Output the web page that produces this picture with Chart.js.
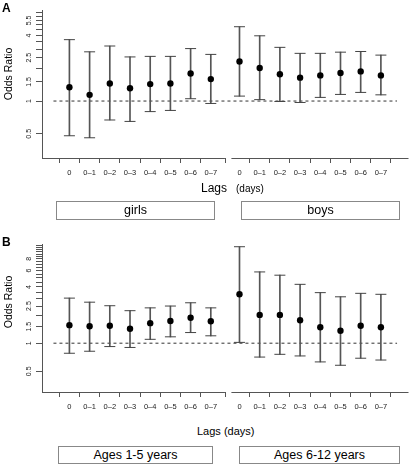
<!DOCTYPE html>
<html>
<head>
<meta charset="utf-8">
<script src="https://cdn.jsdelivr.net/npm/chart.js@4"></script>
<style>
  body { margin: 0; background: #fff; font-family: "Liberation Sans", Arial, sans-serif; }
  #wrap { position: relative; width: 415px; height: 465px; overflow: hidden; }
  .panel { position: absolute; left: 0; width: 415px; height: 185px; }
  .lbl { position: absolute; white-space: nowrap; color: #000; line-height: 1; }
  .letter { font-weight: bold; font-size: 12px; }
  .ytitle { font-size: 10.5px; transform: translate(-50%, -50%) rotate(-90deg); }
  .strip { position: absolute; border: 1px solid #888; box-sizing: border-box; text-align: center;
           font-size: 12.5px; line-height: 17px; color: #000; }
</style>
</head>
<body>
<div id="wrap">
  <div class="panel" style="top:0"><canvas id="chartA" width="415" height="185"></canvas></div>
  <div class="panel" style="top:234px"><canvas id="chartB" width="415" height="185"></canvas></div>

  <div class="lbl letter" style="left:2px;top:1.5px">A</div>
  <div class="lbl letter" style="left:2px;top:236px">B</div>
  <div class="lbl ytitle" style="left:7.5px;top:74px">Odds Ratio</div>
  <div class="lbl ytitle" style="left:7.5px;top:302px">Odds Ratio</div>

  <div class="lbl" style="left:201px;top:182px;font-size:12px">Lags</div>
  <div class="lbl" style="left:236px;top:184px;font-size:10px">(days)</div>
  <div class="lbl" style="left:197px;top:426px;font-size:11px">Lags (days)</div>

  <div class="strip" style="left:56px;top:201px;width:159px;height:19px">girls</div>
  <div class="strip" style="left:241px;top:201px;width:159px;height:19px">boys</div>
  <div class="strip" style="left:58px;top:446px;width:155px;height:18px">Ages 1-5 years</div>
  <div class="strip" style="left:239px;top:446px;width:161px;height:18px">Ages 6-12 years</div>
</div>

<script>
// lag windows (days)
const lags = ["0", "0\u20131", "0\u20132", "0\u20133", "0\u20134", "0\u20135", "0\u20136", "0\u20137"];

// panel A: by sex
const girlsOR = [1.34, 1.14, 1.45, 1.31, 1.43, 1.45, 1.79, 1.59];
const girlsLo = [0.48, 0.46, 0.67, 0.65, 0.80, 0.82, 1.05, 0.95];
const girlsHi = [3.66, 2.83, 3.20, 2.54, 2.57, 2.57, 3.03, 2.68];
const boysOR  = [2.31, 2.01, 1.76, 1.64, 1.72, 1.81, 1.87, 1.72];
const boysLo  = [1.11, 1.03, 0.99, 0.97, 1.08, 1.15, 1.20, 1.14];
const boysHi  = [4.81, 3.97, 3.11, 2.74, 2.74, 2.81, 2.85, 2.64];

// panel B: by age
const age15OR  = [1.56, 1.52, 1.54, 1.43, 1.64, 1.73, 1.87, 1.72];
const age15Lo  = [0.78, 0.82, 0.92, 0.90, 1.10, 1.17, 1.30, 1.20];
const age15Hi  = [3.04, 2.75, 2.52, 2.23, 2.39, 2.50, 2.71, 2.39];
const age612OR = [3.34, 2.01, 2.01, 1.76, 1.48, 1.36, 1.54, 1.48];
const age612Lo = [1.02, 0.71, 0.76, 0.73, 0.63, 0.58, 0.69, 0.66];
const age612Hi = [10.8, 5.80, 5.35, 4.27, 3.48, 3.14, 3.42, 3.34];

// y axis ticks
const yTicksA  = [0.5, 1, 1.5, 2, 2.5, 3, 3.5, 4, 4.5, 5, 5.5, 6, 6.5];
const yLabelsA = [0.5, 1, 1.5, 2.5, 4, 5.5];
const yTicksB  = [0.5, 1, 1.5, 2, 2.5, 3, 3.5, 4, 4.5, 5, 5.5, 6, 6.5, 7, 7.5, 8, 8.5, 9, 9.5, 10, 10.5, 11];
const yLabelsB = [0.5, 1, 1.5, 2.5, 4, 6, 8];

// facet placement on the shared x scale
const facetShift = 8.42;
const xMin = -0.79, xMax = 16.22;
const axisGap = [7.7, 8.02];

const pos = (i, f) => i + f * facetShift;

// draws the bottom axis line in two pieces, one per facet
const facetAxis = {
  id: "facetAxis",
  afterDatasetsDraw(chart) {
    const {ctx, chartArea, scales} = chart;
    const y = Math.round(chartArea.bottom) + 0.5;
    ctx.save();
    ctx.strokeStyle = "#555";
    ctx.lineWidth = 1;
    ctx.beginPath();
    ctx.moveTo(chartArea.left, y);
    ctx.lineTo(scales.x.getPixelForValue(axisGap[0]), y);
    ctx.moveTo(scales.x.getPixelForValue(axisGap[1]), y);
    ctx.lineTo(chartArea.right, y);
    ctx.stroke();
    ctx.restore();
  }
};

function oddsChart({canvas_id, facets, yMin, yMax, yTicks, yLabels}) {

  const points = [], bars = [], caps = [];
  facets.forEach((fc, f) => {
    for (let i = 0; i < lags.length; i++) {
      points.push({x: pos(i, f), y: fc.or[i]});
      bars.push({x: pos(i, f), y: [fc.lo[i], fc.hi[i]]});
      caps.push({x: pos(i, f), y: fc.lo[i]});
      caps.push({x: pos(i, f), y: fc.hi[i]});
    }
  });

  const tickPos = [];
  const tickText = [];
  facets.forEach((fc, f) => {
    lags.forEach((l, i) => { tickPos.push(pos(i, f)); tickText.push(l); });
  });

  const config = {
    type: "scatter",
    data: {
      datasets: [
        {
          type: "scatter",
          data: points,
          pointRadius: 3.2,
          pointBackgroundColor: "#000",
          pointBorderColor: "#000",
          pointBorderWidth: 0
        },
        {
          type: "scatter",
          data: caps,
          pointStyle: "line",
          pointRadius: 5.5,
          pointBorderColor: "#444",
          pointBorderWidth: 1
        },
        {
          type: "bar",
          data: bars,
          barThickness: 1,
          grouped: false,
          backgroundColor: "#555",
          borderWidth: 0
        },
        {
          type: "line",
          data: [{x: xMin, y: 1}, {x: xMax, y: 1}],
          borderColor: "#333",
          borderWidth: 1,
          borderDash: [3, 3],
          pointRadius: 0,
          fill: false
        }
      ]
    },
    options: {
      animation: false,
      responsive: false,
      layout: { padding: { top: 10, right: 2, left: 0, bottom: 0 } },
      plugins: { legend: { display: false }, tooltip: { enabled: false } },
      scales: {
        x: {
          type: "linear",
          min: xMin,
          max: xMax,
          border: { display: false },
          grid: { drawOnChartArea: false, tickLength: 5, color: "#555" },
          ticks: {
            autoSkip: false,
            maxRotation: 0,
            padding: 5,
            color: "#222",
            font: { family: "Liberation Sans", size: 7.5 },
            callback: (v, i) => tickText[i]
          },
          afterBuildTicks: s => { s.ticks = tickPos.map(v => ({value: v})); },
          afterFit: s => { s.height = 27; }
        },
        y: {
          type: "logarithmic",
          min: yMin,
          max: yMax,
          border: { display: true, color: "#555", width: 1 },
          grid: { drawOnChartArea: false, tickLength: 6, color: "#555" },
          ticks: {
            autoSkip: false,
            minRotation: 90,
            maxRotation: 90,
            crossAlign: "center",
            padding: 2,
            color: "#222",
            font: { family: "Liberation Sans", size: 7 },
            callback: v => yLabels.includes(v) ? String(v) : ""
          },
          afterBuildTicks: s => { s.ticks = yTicks.map(v => ({value: v})); },
          afterFit: s => { s.width = 42; }
        }
      }
    },
    plugins: [facetAxis]
  };

  const ctx = document.getElementById(canvas_id).getContext("2d");
  return new Chart(ctx, config);
}

oddsChart({
  canvas_id: "chartA",
  facets: [
    {or: girlsOR, lo: girlsLo, hi: girlsHi},
    {or: boysOR, lo: boysLo, hi: boysHi}
  ],
  yMin: 0.332, yMax: 6.85, yTicks: yTicksA, yLabels: yLabelsA
});

oddsChart({
  canvas_id: "chartB",
  facets: [
    {or: age15OR, lo: age15Lo, hi: age15Hi},
    {or: age612OR, lo: age612Lo, hi: age612Hi}
  ],
  yMin: 0.331, yMax: 11.55, yTicks: yTicksB, yLabels: yLabelsB
});
</script>
</body>
</html>
